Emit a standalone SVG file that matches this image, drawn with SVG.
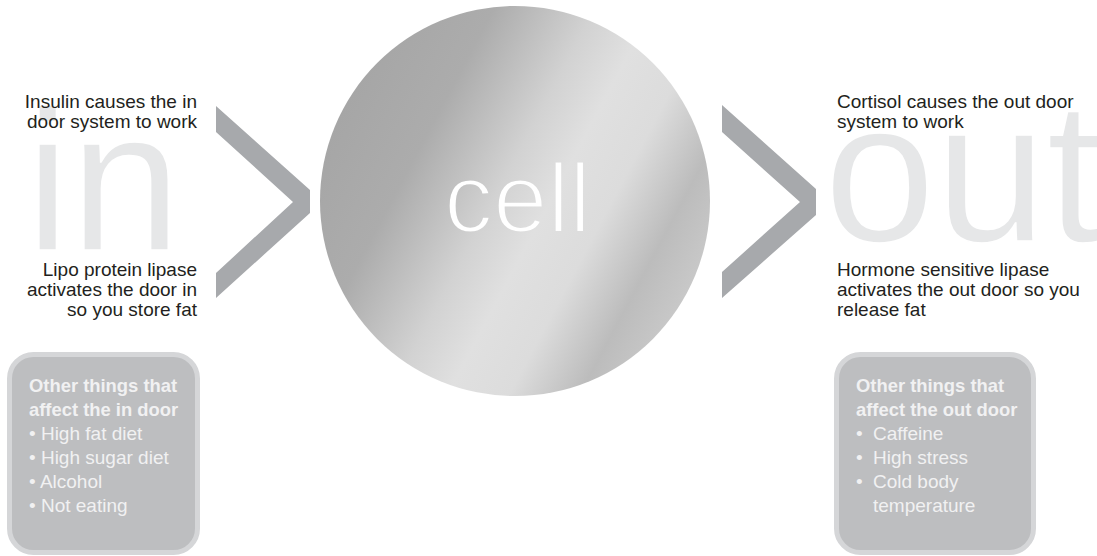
<svg xmlns="http://www.w3.org/2000/svg" width="1097" height="556" viewBox="0 0 1097 556">
<style>
.big{font-family:"Liberation Sans",Arial,sans-serif;font-size:200px;fill:#e6e7e8;stroke:#ffffff;stroke-width:1.5px}
.body{font-family:"Liberation Sans",Arial,sans-serif;font-size:19px;fill:#231f20}
.bx{font-family:"Liberation Sans",Arial,sans-serif;font-size:19px;fill:#f1f1f2}
.bh{font-weight:bold;font-size:18.4px}
.box{fill:#bdbec0;stroke:#d5d6d8;stroke-width:5}
.chev{fill:#a7a9ac}
</style>
<defs>
<linearGradient id="cellg" gradientUnits="userSpaceOnUse" x1="343" y1="109.5" x2="687" y2="292.5">
<stop offset="0" stop-color="#a6a6a6"/>
<stop offset="0.22" stop-color="#acacac"/>
<stop offset="0.45" stop-color="#d2d2d2"/>
<stop offset="0.58" stop-color="#e0e0e0"/>
<stop offset="0.72" stop-color="#dcdcdc"/>
<stop offset="0.88" stop-color="#bcbcbc"/>
<stop offset="1" stop-color="#c8c8c8"/>
</linearGradient>
</defs>
<rect width="1097" height="556" fill="#ffffff"/>
<g id="in-label"><text class="big" x="25.6" y="250">in</text></g>
<g id="out-label"><text class="big" x="824" y="241">out</text></g>
<g id="cell">
<circle cx="515" cy="201" r="195" fill="url(#cellg)"/>
<text x="444" y="232" font-family="Liberation Sans, Arial, sans-serif" font-size="98" fill="#ffffff" stroke="url(#cellg)" stroke-width="3">cell</text>
</g>
<g id="connectors">
<polygon class="chev" points="216,106 310,190 310,213 216,298 216,273 293,202 216,132"/>
<polygon class="chev" points="722,105 816,189 816,215 722,298 722,272 800,202 722,132"/>
</g>
<g id="insulin-text">
<text class="body" text-anchor="end"><tspan x="197" y="108">Insulin causes the in</tspan><tspan x="197" y="128">door system to work</tspan></text>
</g>
<g id="lipo-text">
<text class="body" text-anchor="end"><tspan x="197" y="276">Lipo protein lipase</tspan><tspan x="197" y="296">activates the door in</tspan><tspan x="197" y="316">so you store fat</tspan></text>
</g>
<g id="cortisol-text">
<text class="body"><tspan x="837" y="108">Cortisol causes the out door</tspan><tspan x="837" y="128">system to work</tspan></text>
</g>
<g id="hormone-text">
<text class="body"><tspan x="837" y="276">Hormone sensitive lipase</tspan><tspan x="837" y="296">activates the out door so you</tspan><tspan x="837" y="316">release fat</tspan></text>
</g>
<g id="in-box">
<rect class="box" x="9.5" y="354.5" width="188" height="198" rx="24"/>
<text class="bx bh" x="29" y="392">Other things that</text>
<text class="bx bh" x="29" y="416">affect the in door</text>
<text class="bx" x="29" y="440">• High fat diet</text>
<text class="bx" x="29" y="464">• High sugar diet</text>
<text class="bx" x="29" y="488">• Alcohol</text>
<text class="bx" x="29" y="512">• Not eating</text>
</g>
<g id="out-box">
<rect class="box" x="836.5" y="354.5" width="197" height="198" rx="24"/>
<text class="bx bh" x="856" y="392">Other things that</text>
<text class="bx bh" x="856" y="416">affect the out door</text>
<text class="bx" x="856" y="440">•</text><text class="bx" x="873" y="440">Caffeine</text>
<text class="bx" x="856" y="464">•</text><text class="bx" x="873" y="464">High stress</text>
<text class="bx" x="856" y="488">•</text><text class="bx" x="873" y="488">Cold body</text>
<text class="bx" x="873" y="512">temperature</text>
</g>
</svg>
